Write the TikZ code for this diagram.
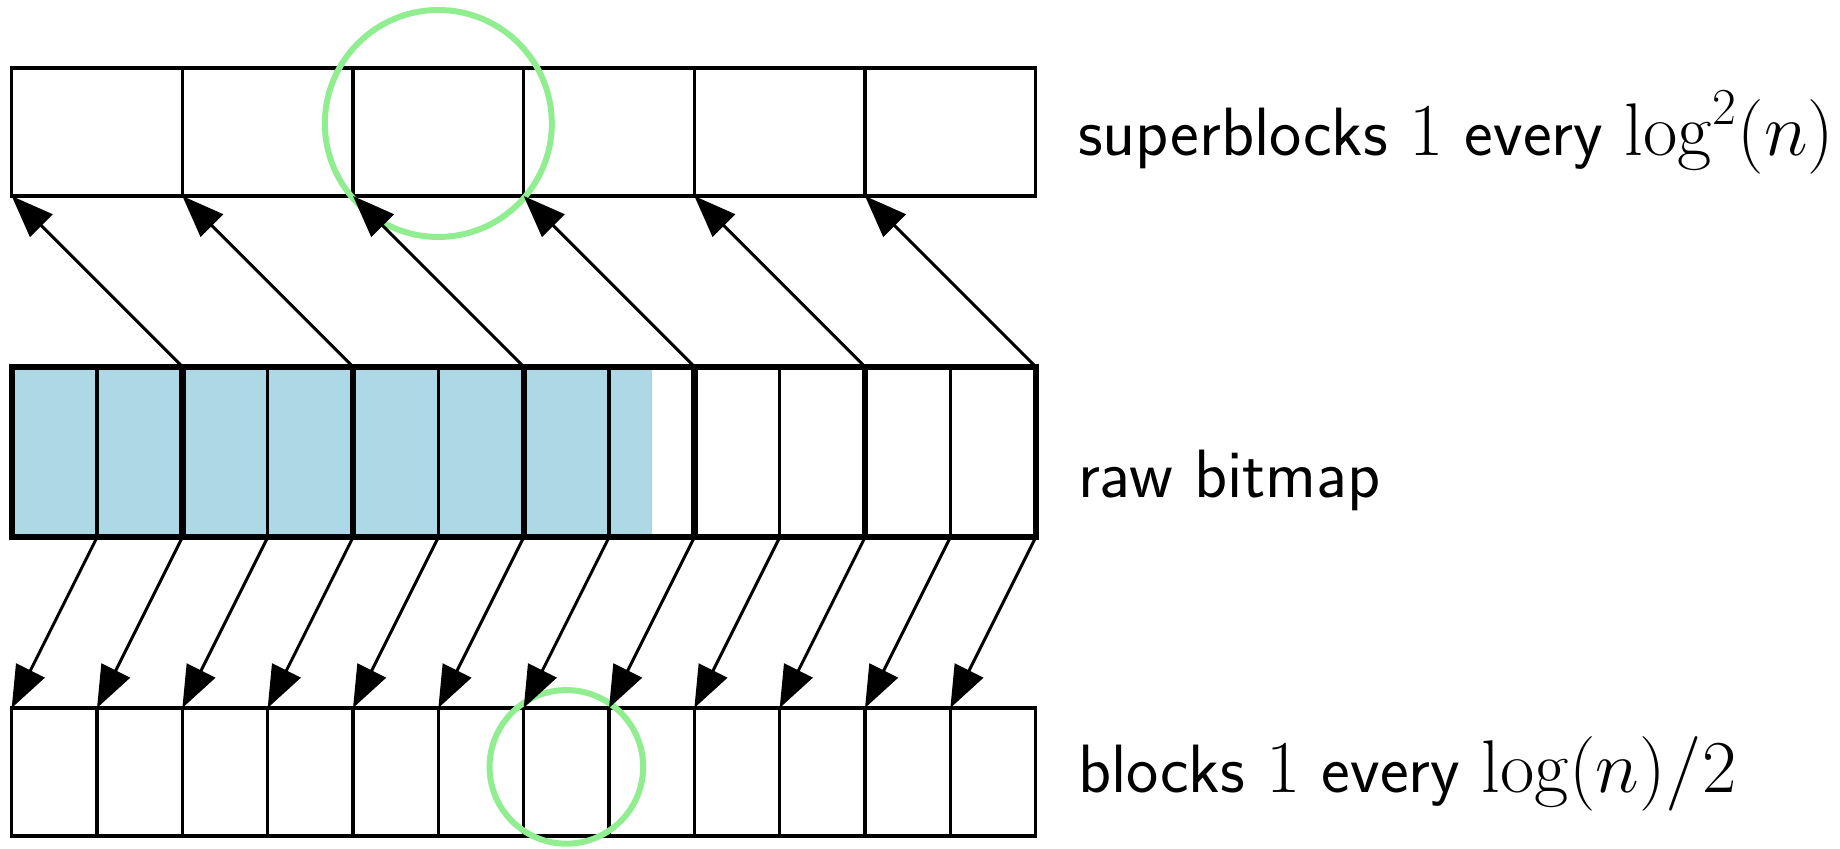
\documentclass[tikz,border=0pt]{standalone}
\usetikzlibrary{arrows.meta}
\definecolor{cellblue}{HTML}{ADD8E6}
\definecolor{ringgreen}{HTML}{90EE90}
% math in the captions is set a little larger than the words
\newcommand{\capmath}[1]{{\fontsize{24}{28}\selectfont$#1$}}
\begin{document}
\begin{tikzpicture}[
  cell/.style={draw=black, line width=1.1pt, inner sep=0pt, outer sep=0pt, anchor=south west},
  supercell/.style={cell, minimum width=2cm, minimum height=1.5cm},
  bitcell/.style={cell, minimum width=1cm, minimum height=2cm},
  bitgroup/.style={cell, line width=2.1pt, minimum width=2cm, minimum height=2cm},
  blockcell/.style={cell, minimum width=1cm, minimum height=1.5cm},
  ptr/.style={line width=1pt, -{Triangle[length=14pt,width=10.5pt]}},
  ring/.style={circle, draw=ringgreen, line width=2pt, inner sep=0pt},
  lbl/.style={anchor=base west, inner sep=0pt, font=\fontsize{22.8}{27}\selectfont\sffamily},
]
\useasboundingbox (-0.137,-0.141) rectangle (21.426,9.797);

% superblock directory
\foreach \i in {0,...,5}
  \node[supercell] (sb\i) at (2*\i,7.5) {};

% already-counted part of the bitmap
\fill[cellblue] (0,3.5) rectangle (7.5,5.5);
\draw[ringgreen, line width=0.3pt] (7.5,3.5) -- (7.5,5.5);

% raw bitmap: single words, then superblock-sized groups
\foreach \i in {0,...,11}
  \node[bitcell] (bm\i) at (\i,3.5) {};
\foreach \i in {0,...,5}
  \node[bitgroup] (bg\i) at (2*\i,3.5) {};

% block directory
\foreach \i in {0,...,11}
  \node[blockcell] (bk\i) at (\i,0) {};

% highlighted entries
\node[ring, minimum size=2.66cm] (hitsb) at (5,8.35) {};
\node[ring, minimum size=1.8cm] (hitbk) at (6.5,0.81) {};

% pointers to the directories
\foreach \i in {0,...,5}
  \draw[ptr] (bg\i.north east) -- (sb\i.south west);
\foreach \i in {0,...,11}
  \draw[ptr] (bm\i.south east) -- (bk\i.north west);

% row captions
\node[lbl] (capsb) at (12.49,7.97) {superblocks \capmath{1} every \capmath{\log^2(n)}};
\node[lbl] (capbm) at (12.49,3.97) {raw bitmap};
\node[lbl] (capbk) at (12.49,0.515) {blocks \capmath{1} every \capmath{\log(n)/2}};
\end{tikzpicture}
\end{document}
